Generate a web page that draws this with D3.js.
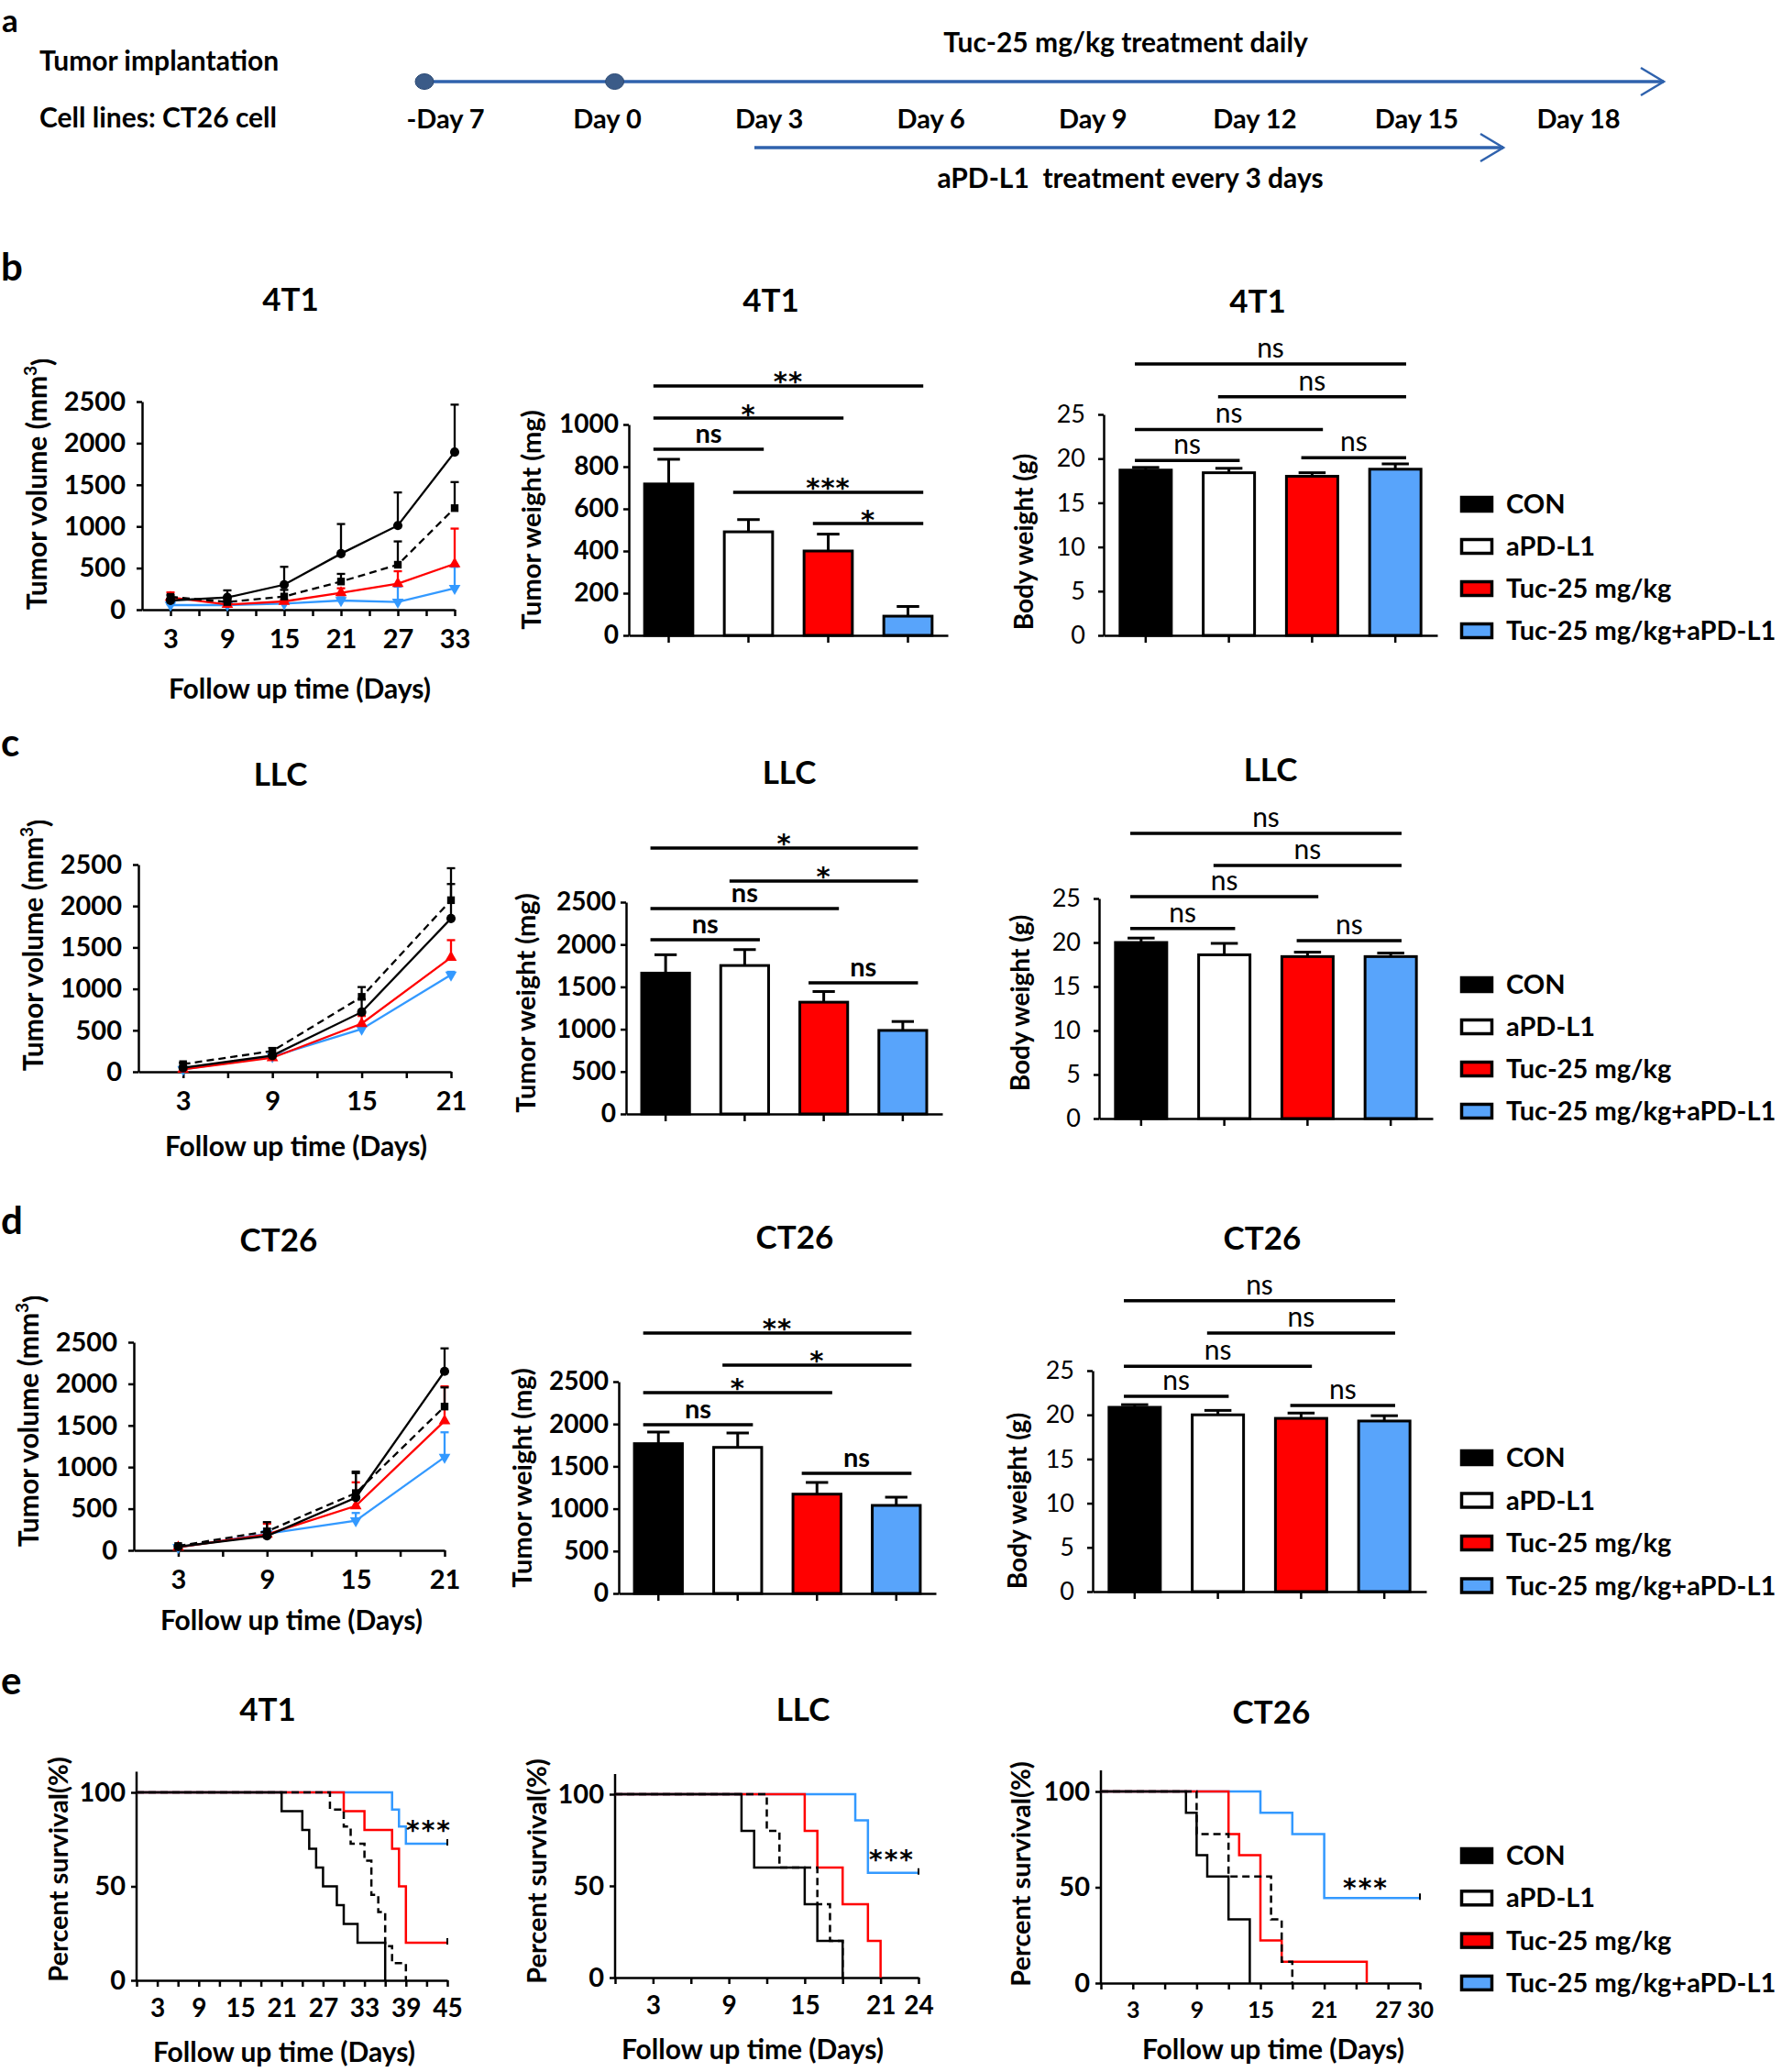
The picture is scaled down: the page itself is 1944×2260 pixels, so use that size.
<!DOCTYPE html>
<html><head><meta charset="utf-8">
<script src="https://cdn.jsdelivr.net/npm/d3@7"></script>
<style>
body{margin:0;background:#fff;}
svg{display:block;}
</style></head><body>
<svg id="fig" width="1944" height="2260"></svg>
<script>
// ---------------- DATA ----------------
const groups = ["CON", "aPD-L1", "Tuc-25 mg/kg", "Tuc-25 mg/kg+aPD-L1"];
const timelineLabels = ["-Day 7", "Day 0", "Day 3", "Day 6", "Day 9", "Day 12", "Day 15", "Day 18"];

// Tumor volume (mm3): rows = groups, values = mean; sem = upper error
const volDays4T1 = [3, 9, 15, 21, 27, 33];
const volLabels4T1 = [3, 9, 15, 21, 27, 33];
const vol4T1Mean = [[110, 147, 300, 673, 1011, 1893], [154, 92, 158, 338, 540, 1220], [147, 62, 99, 202, 312, 551], [55, 55, 73, 110, 92, 257]];
const vol4T1Sem = [[20, 85, 215, 356, 397, 570], [20, 20, 80, 92, 280, 313], [60, 15, 20, 55, 150, 423], [10, 10, 15, 40, 184, 258]];

const volDaysLLC = [3, 9, 15, 21];
const volLabelsLLC = [3, 9, 15, 21];
const volLLCMean = [[48, 195, 720, 1849], [92, 250, 904, 2070], [29, 169, 581, 1379], [29, 184, 515, 1169]];
const volLLCSem = [[10, 20, 155, 416], [15, 37, 118, 386], [8, 20, 92, 209], [5, 15, 30, 37]];

const volDaysCT26 = [3, 9, 15, 21];
const volLabelsCT26 = [3, 9, 15, 21];
const volCT26Mean = [[44, 173, 633, 2150], [52, 228, 688, 1727], [37, 191, 534, 1554], [37, 199, 357, 1119]];
const volCT26Sem = [[8, 50, 313, 276], [8, 111, 240, 230], [5, 129, 283, 416], [5, 60, 92, 299]];

// Tumor weight (mg)
const tw4T1Mean = [718, 491, 400, 91];
const tw4T1Sem = [117, 58, 80, 46];
const twLLCMean = [1662, 1752, 1319, 986];
const twLLCSem = [217, 188, 126, 105];
const twCT26Mean = [1768, 1724, 1172, 1039];
const twCT26Sem = [137, 170, 138, 97];

// Body weight (g)
const bw4T1Mean = [18.7, 18.4, 18.0, 18.8];
const bw4T1Sem = [0.3, 0.5, 0.4, 0.6];
const bwLLCMean = [20.0, 18.6, 18.4, 18.4];
const bwLLCSem = [0.5, 1.3, 0.5, 0.4];
const bwCT26Mean = [20.85, 20.0, 19.6, 19.3];
const bwCT26Sem = [0.3, 0.5, 0.6, 0.6];

// Significance brackets: [group i, group j, label, height in data units]
const sigTw4T1 = [[0, 3, "**", 1183], [0, 2, "*", 1030], [0, 1, "ns", 883], [1, 3, "***", 678], [2, 3, "*", 530]];
const sigBw4T1 = [[0, 3, "ns", 30.7], [1, 3, "ns", 27.0], [0, 2, "ns", 23.3], [0, 1, "ns", 19.8], [2, 3, "ns", 20.1]];
const sigTwLLC = [[0, 3, "*", 3138], [1, 3, "*", 2749], [0, 2, "ns", 2424], [0, 1, "ns", 2056], [2, 3, "ns", 1548]];
const sigBwLLC = [[0, 3, "ns", 32.4], [1, 3, "ns", 28.75], [0, 2, "ns", 25.2], [0, 1, "ns", 21.6], [2, 3, "ns", 20.2]];
const sigTwCT26 = [[0, 3, "**", 3074], [1, 3, "*", 2695], [0, 2, "*", 2370], [0, 1, "ns", 1991], [2, 3, "ns", 1418]];
const sigBwCT26 = [[0, 3, "ns", 32.9], [1, 3, "ns", 29.25], [0, 2, "ns", 25.5], [0, 1, "ns", 22.1], [2, 3, "ns", 21.05]];

// Survival (Kaplan-Meier steps): [day, percent] ; curve continues to study end
const surv4T1 = [
  [[0, 100], [21, 90], [24, 80], [25, 70], [26, 60], [27, 50], [29, 40], [30, 30], [32, 20], [36, 0]],
  [[0, 100], [28, 90.9], [30, 81.8], [31, 72.7], [33, 63.6], [34, 45.5], [35, 36.4], [36, 18.2], [37, 9.1], [39, 0]],
  [[0, 100], [30, 90], [33, 80], [37, 70], [38, 50], [39, 20]],
  [[0, 100], [37, 90.9], [38, 81.8], [39, 72.7]]
];
const survLLC = [
  [[0, 100], [10, 80], [11, 60], [15, 40], [16, 20], [18, 0]],
  [[0, 100], [12, 80], [13, 60], [16, 40], [17, 20], [18, 0]],
  [[0, 100], [15, 80], [16, 60], [18, 40], [20, 20], [21, 0]],
  [[0, 100], [19, 85.7], [20, 57.1]]
];
const survCT26 = [
  [[0, 100], [8, 88.9], [9, 66.7], [10, 55.6], [12, 33.3], [14, 0]],
  [[0, 100], [9, 77.8], [12, 55.6], [16, 33.3], [17, 11.1], [18, 0]],
  [[0, 100], [12, 77.8], [13, 66.7], [15, 22.2], [17, 11.1], [25, 0]],
  [[0, 100], [15, 88.9], [18, 77.8], [21, 44.4]]
];
const survLabels4T1 = [3, 9, 15, 21, 27, 33, 39, 45];
const survLabelsLLC = [3, 9, 15, 21, 24];
const survLabelsCT26 = [3, 9, 15, 21, 27, 30];

// ---------------- STYLE ----------------
const FONT = "Lato, 'Open Sans', 'DejaVu Sans', sans-serif";
const STAR_FONT = "'DejaVu Sans', sans-serif";
const lineColors = ["#000000", "#000000", "#ff0000", "#3399ff"];
const barFills = ["#000000", "#ffffff", "#ff0000", "#58a4fb"];
const dashArr = [null, "8,5", null, null];
const BLUE_TL = "#2f62ad";

const svg = d3.select("#fig").attr("font-family", FONT);

function txt(g, x, y, s, size, weight, anchor) {
  return g.append("text").attr("x", x).attr("y", y).attr("font-size", size)
    .attr("font-weight", weight || 700).attr("text-anchor", anchor || "start").attr("fill", "#000").text(s);
}
function stars(g, x, cy, s, size) {
  return g.append("text").attr("x", x).attr("y", cy + size * 0.6).attr("font-size", size)
    .attr("font-family", STAR_FONT).attr("font-weight", 700).attr("text-anchor", "middle")
    .attr("letter-spacing", 1).attr("fill", "#000").text(s);
}
function vtxt(g, cx, cy, s, size, weight) {
  return g.append("text").attr("transform", `translate(${cx},${cy}) rotate(-90)`)
    .attr("text-anchor", "middle").attr("dy", "0.35em").attr("font-size", size)
    .attr("font-weight", weight || 700).attr("fill", "#000").text(s);
}
function styleAxis(a, size, weight) {
  a.attr("font-family", FONT).attr("font-size", size).attr("font-weight", weight);
  a.select(".domain").attr("stroke-width", 2.5).attr("stroke", "#000");
  a.selectAll(".tick line").attr("stroke-width", 2.5).attr("stroke", "#000");
  a.selectAll(".tick text").attr("fill", "#000");
}
const fmt = d => String(d);

// ---------------- PANEL A : timeline ----------------
(function () {
  const g = svg.append("g");
  txt(g, 2, 35, "a", 35, 700);
  txt(g, 43, 77, "Tumor implantation", 30, 700);
  txt(g, 43, 139, "Cell lines: CT26 cell", 30, 700);
  const xs = d3.scalePoint().domain(timelineLabels).range([486, 1722]);
  timelineLabels.forEach(l => txt(g, xs(l), 140, l, 29, 700, "middle"));
  const yTop = 89, yBot = 161;
  const dot1 = xs("-Day 7") - 23, dot2 = xs("Day 0") + 8;
  g.append("line").attr("x1", dot1).attr("x2", 1815).attr("y1", yTop).attr("y2", yTop)
    .attr("stroke", BLUE_TL).attr("stroke-width", 3.5);
  g.append("path").attr("d", `M1790,${yTop - 15} L1815,${yTop} L1790,${yTop + 15}`).attr("fill", "none")
    .attr("stroke", BLUE_TL).attr("stroke-width", 2.5);
  [dot1, dot2].forEach(cx => g.append("ellipse").attr("cx", cx).attr("cy", yTop)
    .attr("rx", 10).attr("ry", 8.5).attr("fill", "#3b5b88").attr("stroke", "#2c4a75").attr("stroke-width", 1));
  txt(g, 1228, 57, "Tuc-25 mg/kg treatment daily", 30, 700, "middle");
  g.append("line").attr("x1", 823).attr("x2", 1640).attr("y1", yBot).attr("y2", yBot)
    .attr("stroke", BLUE_TL).attr("stroke-width", 3.5);
  g.append("path").attr("d", `M1615,${yBot - 15} L1640,${yBot} L1615,${yBot + 15}`).attr("fill", "none")
    .attr("stroke", BLUE_TL).attr("stroke-width", 2.5);
  txt(g, 1233, 205, "aPD-L1  treatment every 3 days", 30, 700, "middle").attr("xml:space", "preserve").style("white-space", "pre");
})();

// ---------------- chart helpers ----------------
function lineChart(days, means, sems, maxDay, labelDays, L) {
  const g = svg.append("g");
  const x = d3.scaleLinear().domain([0, maxDay]).range([L.x0, L.x1]);
  const y = d3.scaleLinear().domain([0, 2500]).range([L.y0, L.y1]);
  const xa = g.append("g").attr("transform", `translate(0,${L.y0})`)
    .call(d3.axisBottom(x).tickValues(d3.range(3, maxDay + 1, 3)).tickSize(7).tickSizeOuter(0).tickPadding(14)
      .tickFormat(d => labelDays.includes(d) ? fmt(d) : ""));
  styleAxis(xa, 29, 700);
  const ya = g.append("g").attr("transform", `translate(${L.x0},0)`)
    .call(d3.axisLeft(y).tickValues(d3.range(0, 2501, 500)).tickSize(6).tickSizeOuter(0).tickPadding(12).tickFormat(fmt));
  styleAxis(ya, 29, 700);
  const syms = [d3.symbolCircle, d3.symbolSquare, d3.symbolTriangle, d3.symbolTriangle];
  [3, 2, 1, 0].forEach(k => {
    const pts = days.map((d, i) => ({ d, v: means[k][i], e: sems[k][i] }));
    const c = lineColors[k];
    const p = g.append("path").datum(pts).attr("fill", "none").attr("stroke", c).attr("stroke-width", 2.3)
      .attr("d", d3.line().x(q => x(q.d)).y(q => y(q.v)));
    if (dashArr[k]) p.attr("stroke-dasharray", dashArr[k]);
    pts.forEach(q => {
      g.append("line").attr("x1", x(q.d)).attr("x2", x(q.d)).attr("y1", y(q.v)).attr("y2", y(q.v + q.e))
        .attr("stroke", c).attr("stroke-width", 2.3);
      g.append("line").attr("x1", x(q.d) - 4.5).attr("x2", x(q.d) + 4.5).attr("y1", y(q.v + q.e)).attr("y2", y(q.v + q.e))
        .attr("stroke", c).attr("stroke-width", 2.3);
      g.append("path").attr("d", d3.symbol().type(syms[k]).size(k === 0 ? 80 : 70)())
        .attr("transform", `translate(${x(q.d)},${y(q.v)})` + (k === 3 ? " rotate(180)" : ""))
        .attr("fill", c);
    });
  });
  txt(g, L.titleX, L.titleY, L.title, 35, 700, "middle");
  const yl = vtxt(g, L.ylX, L.ylY, "", 30, 700);
  yl.append("tspan").text("Tumor volume (mm");
  yl.append("tspan").attr("dy", "-0.55em").attr("font-size", 19).text("3");
  yl.append("tspan").attr("dy", "0.55em").text(")");
  txt(g, L.xlX, L.xlY, "Follow up time (Days)", 30, 700, "middle");
}

function barChart(means, sems, yMax, yStep, sig, L, body) {
  const g = svg.append("g");
  const x = d3.scaleBand().domain(groups).range([L.x0, L.x1]).paddingInner(body ? 0.35 : 0.36).paddingOuter(0.18);
  const y = d3.scaleLinear().domain([0, yMax]).range([L.y0, L.y1]);
  const bw = x.bandwidth();
  groups.forEach((gname, i) => {
    const cx = x(gname) + bw / 2;
    const capW = bw * (body ? 0.5 : 0.44);
    g.append("line").attr("x1", cx).attr("x2", cx).attr("y1", y(means[i])).attr("y2", y(means[i] + sems[i]))
      .attr("stroke", "#000").attr("stroke-width", 3);
    g.append("line").attr("x1", cx - capW / 2).attr("x2", cx + capW / 2).attr("y1", y(means[i] + sems[i])).attr("y2", y(means[i] + sems[i]))
      .attr("stroke", "#000").attr("stroke-width", 3);
    g.append("rect").attr("x", x(gname) + 1.5).attr("y", y(means[i])).attr("width", bw - 3).attr("height", L.y0 - y(means[i]))
      .attr("fill", barFills[i]).attr("stroke", "#000").attr("stroke-width", 3);
  });
  const xa = g.append("g").attr("transform", `translate(0,${L.y0})`)
    .call(d3.axisBottom(x).tickSize(8).tickSizeOuter(0).tickFormat(""));
  styleAxis(xa, 20, 400);
  const ya = g.append("g").attr("transform", `translate(${L.x0},0)`)
    .call(d3.axisLeft(y).tickValues(d3.range(0, yMax + 0.001, yStep)).tickSize(6).tickSizeOuter(0)
      .tickPadding(body ? 14 : 5).tickFormat(fmt));
  styleAxis(ya, body ? 27 : 28, body ? 400 : 700);
  sig.forEach(s => {
    const xa1 = x(groups[s[0]]) + bw / 2 - bw * (body ? 0.2 : 0.3);
    const xa2 = x(groups[s[1]]) + bw / 2 + bw * (body ? 0.2 : 0.3);
    const ly = y(s[3]);
    g.append("line").attr("x1", xa1).attr("x2", xa2).attr("y1", ly).attr("y2", ly).attr("stroke", "#000").attr("stroke-width", 3.5);
    if (s[2].indexOf("*") >= 0) stars(g, (xa1 + xa2) / 2, ly - 12, s[2], 29);
    else txt(g, (xa1 + xa2) / 2, ly - 7, s[2], body ? 30 : 29, body ? 400 : 700, "middle");
  });
  txt(g, L.titleX, L.titleY, L.title, 35, 700, "middle");
  vtxt(g, L.ylX, L.ylY, body ? "Body weight (g)" : "Tumor weight (mg)", body ? 28 : 29, 700);
}

function survChart(curves, maxDay, labelDays, L) {
  const g = svg.append("g");
  const x = d3.scaleLinear().domain([0, maxDay]).range([L.x0, L.x1]);
  const y = d3.scaleLinear().domain([0, 100]).range([L.y0, L.y1]);
  const ya = g.append("g").attr("transform", `translate(${L.x0},0)`)
    .call(d3.axisLeft(y).tickValues([0, 50, 100]).tickSize(6).tickSizeOuter(0).tickPadding(6).tickFormat(fmt));
  styleAxis(ya, 29, 700);
  ya.select(".domain").attr("d", `M0,${y(0)}V${y(111)}`);
  const xa = g.append("g").attr("transform", `translate(0,${L.y0})`)
    .call(d3.axisBottom(x).tickValues(d3.range(0, maxDay + 1, 3)).tickSize(7).tickSizeOuter(0).tickPadding(13)
      .tickFormat(d => labelDays.includes(d) ? fmt(d) : ""));
  styleAxis(xa, L.tickFont || 28, 700);
  [3, 2, 1, 0].forEach(k => {
    const steps = curves[k].slice();
    const last = steps[steps.length - 1];
    if (last[1] > 0) steps.push([maxDay, last[1]]);
    const p = g.append("path").datum(steps).attr("fill", "none").attr("stroke", lineColors[k]).attr("stroke-width", 2.5)
      .attr("d", d3.line().curve(d3.curveStepAfter).x(d => x(d[0])).y(d => y(d[1])));
    if (dashArr[k]) p.attr("stroke-dasharray", dashArr[k]);
    if (last[1] > 0) {
      g.append("line").attr("x1", x(maxDay)).attr("x2", x(maxDay)).attr("y1", y(last[1]) - 5).attr("y2", y(last[1]) + 2)
        .attr("stroke", "#000").attr("stroke-width", 2);
    }
  });
  stars(g, L.starX, L.starY, "***", 28).attr("letter-spacing", 2);
  txt(g, L.titleX, L.titleY, L.title, 35, 700, "middle");
  vtxt(g, L.ylX, L.ylY, "Percent survival(%)", 29, 700);
  txt(g, L.xlX, L.xlY, "Follow up time (Days)", 30, 700, "middle");
}

function legend(x, y0, step) {
  const g = svg.append("g");
  groups.forEach((name, i) => {
    const cy = y0 + i * step;
    g.append("rect").attr("x", x + 1.5).attr("y", cy - 7.5).attr("width", 33).attr("height", 15)
      .attr("fill", barFills[i]).attr("stroke", "#000").attr("stroke-width", 3.5);
    txt(g, x + 50, cy + 10, name, 29, 700);
  });
}

// ---------------- PANEL LETTERS ----------------
[["b", 306], ["c", 825], ["d", 1346], ["e", 1848]].forEach(p => txt(svg, 1, p[1], p[0], 42, 700));

// ---------------- PANEL B ----------------
lineChart(volDays4T1, vol4T1Mean, vol4T1Sem, 33, volLabels4T1,
  { x0: 155, x1: 496, y0: 665, y1: 438, title: "4T1", titleX: 317, titleY: 339, ylX: 40, ylY: 528, xlX: 327, xlY: 762 });
barChart(tw4T1Mean, tw4T1Sem, 1000, 200, sigTw4T1,
  { x0: 686, x1: 1034, y0: 693, y1: 463, title: "4T1", titleX: 841, titleY: 340, ylX: 580, ylY: 567 }, false);
barChart(bw4T1Mean, bw4T1Sem, 25, 5, sigBw4T1,
  { x0: 1204, x1: 1568, y0: 693, y1: 452, title: "4T1", titleX: 1372, titleY: 341, ylX: 1117, ylY: 591 }, true);
legend(1593, 550, 46);

// ---------------- PANEL C ----------------
lineChart(volDaysLLC, volLLCMean, volLLCSem, 21, volLabelsLLC,
  { x0: 151, x1: 492, y0: 1169, y1: 943, title: "LLC", titleX: 306, titleY: 857, ylX: 36, ylY: 1031, xlX: 323, xlY: 1261 });
barChart(twLLCMean, twLLCSem, 2500, 500, sigTwLLC,
  { x0: 683, x1: 1028, y0: 1215, y1: 984, title: "LLC", titleX: 861, titleY: 855, ylX: 574, ylY: 1094 }, false);
barChart(bwLLCMean, bwLLCSem, 25, 5, sigBwLLC,
  { x0: 1199, x1: 1563, y0: 1220, y1: 980, title: "LLC", titleX: 1386, titleY: 852, ylX: 1113, ylY: 1094 }, true);
legend(1593, 1074, 46);

// ---------------- PANEL D ----------------
lineChart(volDaysCT26, volCT26Mean, volCT26Sem, 21, volLabelsCT26,
  { x0: 146, x1: 485, y0: 1691, y1: 1464, title: "CT26", titleX: 304, titleY: 1365, ylX: 31, ylY: 1550, xlX: 318, xlY: 1778 });
barChart(twCT26Mean, twCT26Sem, 2500, 500, sigTwCT26,
  { x0: 675, x1: 1021, y0: 1738, y1: 1507, title: "CT26", titleX: 867, titleY: 1362, ylX: 570, ylY: 1612 }, false);
barChart(bwCT26Mean, bwCT26Sem, 25, 5, sigBwCT26,
  { x0: 1192, x1: 1556, y0: 1736, y1: 1495, title: "CT26", titleX: 1377, titleY: 1363, ylX: 1110, ylY: 1637 }, true);
legend(1593, 1590, 46.5);

// ---------------- PANEL E ----------------
survChart(surv4T1, 45, survLabels4T1,
  { x0: 149, x1: 488, y0: 2160, y1: 1955, title: "4T1", titleX: 292, titleY: 1877, ylX: 64, ylY: 2039, xlX: 310, xlY: 2249, starX: 468, starY: 1989 });
survChart(survLLC, 24, survLabelsLLC,
  { x0: 671, x1: 1002, y0: 2157, y1: 1957, title: "LLC", titleX: 876, titleY: 1877, ylX: 586, ylY: 2041, xlX: 821, xlY: 2246, starX: 973, starY: 2021 });
survChart(survCT26, 30, survLabelsCT26,
  { x0: 1201, x1: 1549, y0: 2163, y1: 1954, title: "CT26", titleX: 1387, titleY: 1880, ylX: 1114, ylY: 2044, xlX: 1389, xlY: 2246, starX: 1490, starY: 2052, tickFont: 25 });
legend(1593, 2024, 46.3);
</script>
</body></html>
